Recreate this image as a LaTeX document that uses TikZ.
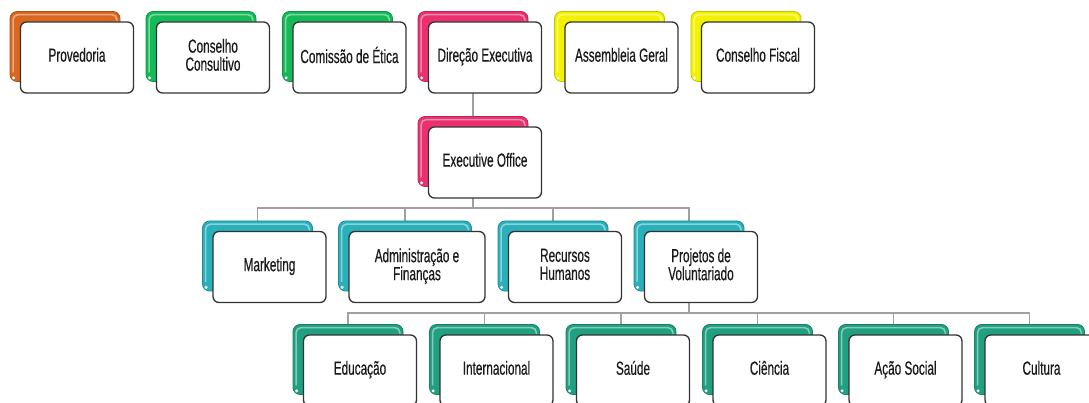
\documentclass[tikz,border=0pt]{standalone}
\usepackage{fontspec}
\newfontfamily\lblfont{Liberation Sans}[FakeStretch=0.62,FakeBold=0.4]
\pgfdeclarelayer{bg}
\pgfsetlayers{bg,main}
\definecolor{cOrange}{HTML}{D9671F}
\definecolor{cGreen}{HTML}{14BA57}
\definecolor{cPink}{HTML}{EA306F}
\definecolor{cYellow}{HTML}{F2F200}
\definecolor{cTeal}{HTML}{2AB0BA}
\definecolor{cSea}{HTML}{20A080}
\definecolor{frame}{HTML}{333333}
\definecolor{connc}{HTML}{A0A0A0}
\definecolor{txt}{HTML}{1A1A1A}
\tikzset{
  frontbox/.style={draw=frame, line width=1.3pt, fill=white, rounded corners=6pt,
    minimum width=113pt, minimum height=71pt, inner sep=0pt, align=center,
    font=\lblfont\fontsize{19}{18}\selectfont, text=txt,
    execute at begin node=\strut, execute at end node=\strut},
  backbox/.style={draw=#1!80!black, line width=0.8pt, fill=#1, rounded corners=7pt,
    minimum width=110pt, minimum height=70pt, inner sep=0pt},
  hilite/.style={draw=#1!55!white, line width=1.6pt, rounded corners=5pt, line cap=round},
  conn/.style={draw=connc, line width=1.1pt}
}
\newcommand\orgbox[6]{%
  \node[backbox=#4, minimum width=#6-3pt] (#1b) at (#2-12,#3-11) {};
  \draw[hilite=#4] ([xshift=3.5pt,yshift=10pt]#1b.south west) |- ([xshift=-3.5pt,yshift=-3.5pt]#1b.north east) -- ++(0,-6pt);
  \fill[white] ([xshift=4pt,yshift=4pt]#1b.south west) circle (1.7pt);
  \node[frontbox, minimum width=#6] (#1) at (#2,#3) {#5};
}
\begin{document}
\begin{tikzpicture}[x=1pt,y=-1pt]
\clip (0,0) rectangle (1089,403);
% row 1
\orgbox{prov}{77}{57.5}{cOrange}{Provedoria}{113pt}
\orgbox{cons}{213}{57.5}{cGreen}{Conselho\\Consultivo}{113pt}
\orgbox{etic}{349.5}{57.5}{cGreen}{Comissão de Ética}{113pt}
\orgbox{dir}{485}{57.5}{cPink}{Direção Executiva}{113pt}
\orgbox{ass}{621.5}{57.5}{cYellow}{Assembleia Geral}{113pt}
\orgbox{fis}{758}{57.5}{cYellow}{Conselho Fiscal}{113pt}
% executive office
\orgbox{eo}{485}{162.5}{cPink}{Executive Office}{113pt}
% row 2
\orgbox{mkt}{269.5}{267}{cTeal}{Marketing}{113pt}
\orgbox{adm}{417}{267}{cTeal}{Administração e\\Finanças}{136pt}
\orgbox{rh}{565}{267}{cTeal}{Recursos\\Humanos}{113pt}
\orgbox{proj}{701}{267}{cTeal}{Projetos de\\Voluntariado}{113pt}
% row 3
\orgbox{edu}{360}{370.5}{cSea}{Educação}{113pt}
\orgbox{intl}{496.5}{370.5}{cSea}{Internacional}{113pt}
\orgbox{sau}{633}{370.5}{cSea}{Saúde}{113pt}
\orgbox{cie}{769.5}{370.5}{cSea}{Ciência}{113pt}
\orgbox{acs}{905.5}{370.5}{cSea}{Ação Social}{113pt}
\orgbox{cul}{1041.5}{370.5}{cSea}{Cultura}{113pt}
% connectors
\coordinate (bus1) at (473,208);
\coordinate (bus2) at (689,313);
\begin{pgfonlayer}{bg}
\fill[white] (0,0) rectangle (1089,403);
\draw[conn] (dirb.south) -- (eob.north);
\draw[conn] (eob.south) -- (eob.south |- bus1);
\draw[conn] (mktb.north) -- (mktb.north |- bus1) -- (projb.north |- bus1) -- (projb.north);
\draw[conn] (admb.north) -- (admb.north |- bus1);
\draw[conn] (rhb.north) -- (rhb.north |- bus1);
\draw[conn] (projb.south) -- (projb.south |- bus2);
\draw[conn] (edub.north) -- (edub.north |- bus2) -- (culb.north |- bus2) -- (culb.north);
\draw[conn] (intlb.north) -- (intlb.north |- bus2);
\draw[conn] (saub.north) -- (saub.north |- bus2);
\draw[conn] (cieb.north) -- (cieb.north |- bus2);
\draw[conn] (acsb.north) -- (acsb.north |- bus2);
\end{pgfonlayer}
\end{tikzpicture}
\end{document}
